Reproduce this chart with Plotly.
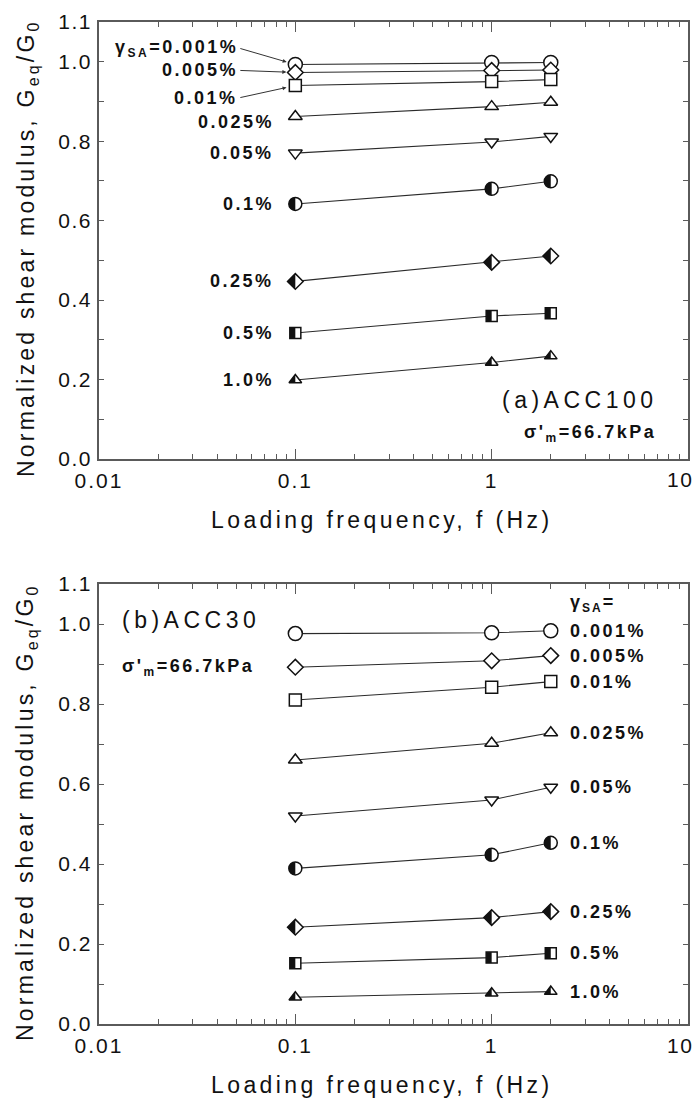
import numpy as np
import plotly.graph_objects as go

# ---------------- data ----------------
freq = [0.1, 1.0, 2.0]
strain_labels = ["0.001%", "0.005%", "0.01%", "0.025%", "0.05%", "0.1%", "0.25%", "0.5%", "1.0%"]

# (a) ACC100  Geq/G0 at f = 0.1, 1, 2 Hz
acc100_0001 = [0.993, 0.998, 0.998]
acc100_0005 = [0.973, 0.978, 0.979]
acc100_001 = [0.940, 0.950, 0.955]
acc100_0025 = [0.862, 0.887, 0.898]
acc100_005 = [0.770, 0.798, 0.812]
acc100_01 = [0.642, 0.680, 0.699]
acc100_025 = [0.447, 0.495, 0.511]
acc100_05 = [0.317, 0.360, 0.367]
acc100_10 = [0.199, 0.243, 0.259]

# (b) ACC30
acc30_0001 = [0.976, 0.978, 0.983]
acc30_0005 = [0.892, 0.908, 0.921]
acc30_001 = [0.810, 0.842, 0.856]
acc30_0025 = [0.660, 0.702, 0.728]
acc30_005 = [0.520, 0.560, 0.592]
acc30_01 = [0.389, 0.423, 0.453]
acc30_025 = [0.242, 0.266, 0.281]
acc30_05 = [0.152, 0.166, 0.177]
acc30_10 = [0.067, 0.077, 0.081]

acc100 = [acc100_0001, acc100_0005, acc100_001, acc100_0025, acc100_005,
          acc100_01, acc100_025, acc100_05, acc100_10]
acc30 = [acc30_0001, acc30_0005, acc30_001, acc30_0025, acc30_005,
         acc30_01, acc30_025, acc30_05, acc30_10]

x_tickvals = [0.01, 0.1, 1, 10]
x_ticktext = ["0.01", "0.1", "1", "10"]
y_tickvals = [0.0, 0.2, 0.4, 0.6, 0.8, 1.0, 1.1]
y_ticktext = ["0.0", "0.2", "0.4", "0.6", "0.8", "1.0", "1.1"]
y_minor = [0.1, 0.3, 0.5, 0.7, 0.9]

# ---------------- styles ----------------
W, H = 698, 1099
FONT = "Liberation Sans, Arial, sans-serif"
INK = "#111111"
AXC = "#5a5a5a"

symbols = ["circle", "diamond", "square", "triangle-up", "triangle-down",
           "circle", "diamond", "square", "triangle-up"]
sizes = [14, 12, 12, 12, 12, 13, 12, 11, 11]
half = [False] * 5 + [True] * 4


def ls(text, px):
    return f'<span style="letter-spacing:{px}px">{text}</span>'


def sub(text, fs, shift):
    return (f'<span style="font-size:{fs}px;baseline-shift:-{shift}px">'
            f'{text}</span>')


def half_path(sym, size):
    r = size / 2.0
    if sym == "circle":
        k = 0.5523 * r
        return (f"M0,{r} C{-k},{r} {-r},{k} {-r},0 "
                f"C{-r},{-k} {-k},{-r} 0,{-r} Z")
    if sym == "square":
        return f"M0,{r} L{-r},{r} L{-r},{-r} L0,{-r} Z"
    if sym == "diamond":
        rd = 1.3 * r
        return f"M0,{rd} L{-rd},0 L0,{-rd} Z"
    if sym == "triangle-up":
        rt = r * 2 / np.sqrt(3)
        r2 = r / 2
        return f"M0,{r} L{-rt},{-r2} L0,{-r2} Z"
    return ""


fig = go.Figure()
shapes = []

panels = [(acc100, "x", "y"), (acc30, "x2", "y2")]
for series, xa, ya in panels:
    for i, vals in enumerate(series):
        fig.add_trace(go.Scatter(
            x=freq, y=vals, mode="lines+markers", xaxis=xa, yaxis=ya,
            showlegend=False, cliponaxis=False,
            line=dict(color="#2a2a2a", width=1.1),
            marker=dict(symbol=symbols[i], size=sizes[i], color="white",
                        line=dict(color=INK, width=1.5)),
        ))
        if half[i]:
            for xv, yv in zip(freq, vals):
                shapes.append(dict(
                    type="path", xref=xa, yref=ya,
                    xsizemode="pixel", ysizemode="pixel",
                    xanchor=xv, yanchor=yv,
                    path=half_path(symbols[i], sizes[i]),
                    fillcolor=INK, line=dict(width=0), layer="above",
                ))

annotations = []
lab_font = dict(family=FONT, size=18, color=INK)
gamma = "γ" + sub("SA", 12, 4) + "="

# top panel labels (left of the 0.1 Hz points)
x01 = float(np.log10(freq[0]))
# the three smallest strains: text with an arrow pointing at the marker
arrow_specs = {0: -16, 1: -2, 2: 12}
for i, lab in enumerate(strain_labels):
    txt = lab
    if i == 0:
        txt = gamma + lab
    if i in arrow_specs:
        annotations.append(dict(
            x=x01, y=acc100[i][0], xref="x", yref="y",
            showarrow=True, ax=-55, ay=arrow_specs[i], standoff=9,
            arrowhead=2, arrowsize=0.8, arrowwidth=1, arrowcolor="#333333",
            xanchor="right", yanchor="middle",
            text="<b>" + ls(txt, 2.5) + "</b>", font=lab_font,
        ))
    else:
        ys = -5 if i == 3 else 0
        annotations.append(dict(
            x=x01, y=acc100[i][0], xref="x", yref="y", showarrow=False,
            xanchor="right", yanchor="middle", xshift=-19, yshift=ys,
            text="<b>" + ls(txt, 2.5) + "</b>", font=lab_font,
        ))

# bottom panel labels (right of the 2 Hz points)
x2v = float(np.log10(freq[2]))
for i, lab in enumerate(strain_labels):
    annotations.append(dict(
        x=x2v, y=acc30[i][2], xref="x2", yref="y2", showarrow=False,
        xanchor="left", yanchor="middle", xshift=17,
        text="<b>" + ls(lab, 2.5) + "</b>", font=lab_font,
    ))
annotations.append(dict(
    x=x2v, y=acc30[0][2], xref="x2", yref="y2", showarrow=False,
    xanchor="left", yanchor="middle", xshift=17, yshift=27,
    text="<b>" + ls(gamma, 2) + "</b>", font=lab_font,
))


def px_x(p):
    return p / W


def px_y(p):
    return 1 - p / H


sigma = "σ'" + sub("m", 12, 4) + "=66.7kPa"

# panel titles and confining stress
annotations += [
    dict(x=px_x(660), y=px_y(400), xref="paper", yref="paper", showarrow=False,
         xanchor="right", yanchor="middle", text=ls("(a)ACC100", 4.5),
         font=dict(family=FONT, size=23, color=INK)),
    dict(x=px_x(658), y=px_y(433), xref="paper", yref="paper", showarrow=False,
         xanchor="right", yanchor="middle",
         text="<b>" + ls(sigma, 2.5) + "</b>",
         font=dict(family=FONT, size=18, color=INK)),
    dict(x=px_x(120), y=px_y(620), xref="paper", yref="paper", showarrow=False,
         xanchor="left", yanchor="middle", text=ls("(b)ACC30", 4.5),
         font=dict(family=FONT, size=23, color=INK)),
    dict(x=px_x(120), y=px_y(667), xref="paper", yref="paper", showarrow=False,
         xanchor="left", yanchor="middle",
         text="<b>" + ls(sigma, 2.5) + "</b>",
         font=dict(family=FONT, size=18, color=INK)),
]

# axis titles
ytitle = ls("Normalized shear modulus, G" + sub("eq", 16, 5) + "/G" + sub("0", 16, 5), 3.2)
xtitle = ls("Loading frequency, f (Hz)", 3.4)
tfont = dict(family=FONT, size=23, color=INK)
for yc in (248, 812):
    annotations.append(dict(x=px_x(27), y=px_y(yc), xref="paper", yref="paper",
                            showarrow=False, textangle=-90, xanchor="center",
                            yanchor="middle", text=ytitle, font=tfont))
for yc in (520, 1085):
    annotations.append(dict(x=px_x(382), y=px_y(yc), xref="paper", yref="paper",
                            showarrow=False, xanchor="center", yanchor="middle",
                            text=xtitle, font=tfont))

tickfont = dict(family=FONT, size=21, color=INK)

# the last decade label sits flush with the right frame edge (as in the
# original figure), so it is placed as a right-anchored label at its tick
for xa, ya in (("x", "y"), ("x2", "y2")):
    annotations.append(dict(
        x=float(np.log10(x_tickvals[-1])), y=y_tickvals[0], xref=xa, yref=ya,
        showarrow=False, xanchor="right", yanchor="middle",
        xshift=7, yshift=-21, text=ls(x_ticktext[-1], 1.5), font=tickfont,
    ))

decades = [0.01, 0.1, 1]
x_minor = [d * m for d in decades for m in range(2, 10)]

xaxis_common = dict(
    type="log", range=[-2, 1], showgrid=False, zeroline=False, automargin=False,
    showline=True, linecolor=AXC, linewidth=1.5, mirror="allticks",
    ticks="inside", ticklen=10, tickwidth=1, tickcolor=AXC,
    tickmode="array", tickvals=x_tickvals,
    ticktext=[ls(t, 2) for t in x_ticktext[:-1]] + [""], tickfont=tickfont,
    minor=dict(ticks="inside", ticklen=5, tickwidth=1, tickcolor=AXC,
               tickmode="array", tickvals=x_minor, showgrid=False),
    ticklabelstandoff=2,
)
yaxis_common = dict(
    range=[0, 1.1], showgrid=False, zeroline=False, automargin=False,
    showline=True, linecolor=AXC, linewidth=1.5, mirror="allticks",
    ticks="inside", ticklen=5, tickwidth=1, tickcolor=AXC,
    tickmode="array", tickvals=y_tickvals,
    ticktext=[ls(t, 1.5) for t in y_ticktext], tickfont=tickfont,
    minor=dict(ticks="inside", ticklen=5, tickwidth=1, tickcolor=AXC,
               tickmode="array", tickvals=y_minor, showgrid=False),
    ticklabelstandoff=1,
)

fig.update_layout(
    width=W, height=H, margin=dict(l=0, r=0, t=0, b=0, autoexpand=False),
    paper_bgcolor="white", plot_bgcolor="white",
    font=dict(family=FONT, color=INK),
    xaxis=dict(domain=[px_x(99), px_x(688)], anchor="y", **xaxis_common),
    yaxis=dict(domain=[px_y(459), px_y(22)], anchor="x", **yaxis_common),
    xaxis2=dict(domain=[px_x(99), px_x(688)], anchor="y2", **xaxis_common),
    yaxis2=dict(domain=[px_y(1024), px_y(584)], anchor="x2", **yaxis_common),
    shapes=shapes, annotations=annotations,
)

fig.write_html("out.html")
